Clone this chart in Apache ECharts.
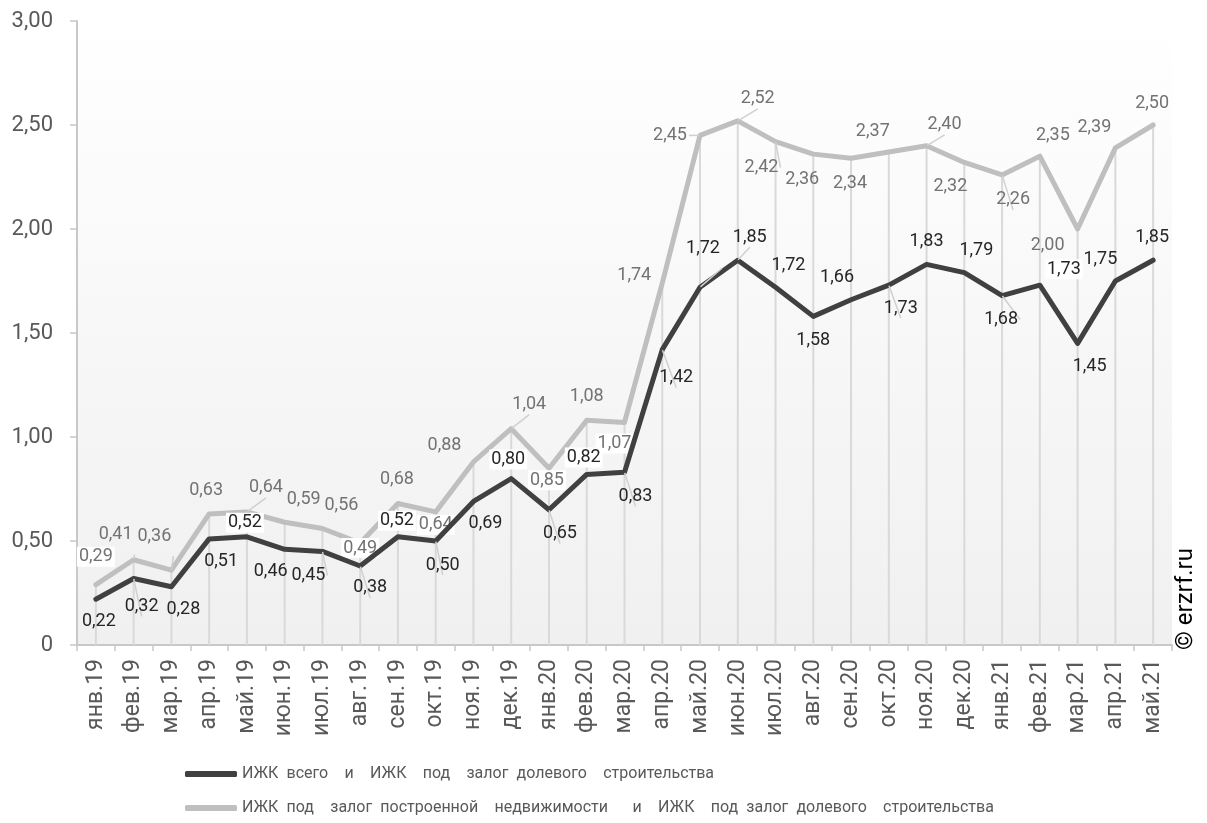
<!DOCTYPE html>
<html>
<head>
<meta charset="utf-8">
<script src="https://cdn.jsdelivr.net/npm/echarts@6/dist/echarts.min.js"></script>
<style>
  html, body { margin: 0; padding: 0; background: #ffffff; }
  #chart { width: 1207px; height: 823px; }
</style>
</head>
<body>
<div id="chart"></div>
<script>
// Месяцы (ось X)
const months = [
  'янв.19', 'фев.19', 'мар.19', 'апр.19', 'май.19', 'июн.19', 'июл.19', 'авг.19',
  'сен.19', 'окт.19', 'ноя.19', 'дек.19', 'янв.20', 'фев.20', 'мар.20', 'апр.20',
  'май.20', 'июн.20', 'июл.20', 'авг.20', 'сен.20', 'окт.20', 'ноя.20', 'дек.20',
  'янв.21', 'фев.21', 'мар.21', 'апр.21', 'май.21'
];

const seriesTotalName = 'ИЖК всего  и  ИЖК  под  залог долевого  строительства';
const seriesBuiltName = 'ИЖК под  залог построенной  недвижимости   и  ИЖК  под залог долевого  строительства';

// ИЖК всего / ИЖК под залог ДДУ
const totalValues = [
  0.22, 0.32, 0.28, 0.51, 0.52, 0.46, 0.45, 0.38, 0.52, 0.50, 0.69, 0.80, 0.65, 0.82, 0.83,
  1.42, 1.72, 1.85, 1.72, 1.58, 1.66, 1.73, 1.83, 1.79, 1.68, 1.73, 1.45, 1.75, 1.85
];

// ИЖК под залог построенной недвижимости / ИЖК под залог ДДУ
const builtValues = [
  0.29, 0.41, 0.36, 0.63, 0.64, 0.59, 0.56, 0.49, 0.68, 0.64, 0.88, 1.04, 0.85, 1.08, 1.07,
  1.74, 2.45, 2.52, 2.42, 2.36, 2.34, 2.37, 2.40, 2.32, 2.26, 2.35, 2.00, 2.39, 2.50
];

// Шкала Y
const yMin = 0, yMax = 3, yStep = 0.5;

// Смещения подписей значений относительно точек (px)
const totalLabelShift = [
  [3, 22], [8, 28], [12, 23], [12, 23], [-2, -14], [-14, 22], [-14, 24], [10, 22], [-1, -16],
  [7, 24], [12, 22], [-3, -19], [11, 24], [-3, -17], [11, 24], [14, 28], [3, -39], [12, -23],
  [13, -22], [0, 24], [-14, -22], [12, 23], [0, -23], [12, -22], [-1, 24], [24, -16], [12, 23],
  [-15, -22], [-1, -23]
];
const builtLabelShift = [
  [0, -28], [-18, -25], [-17, -34], [-3, -23], [19, -24], [19, -23], [19, -23], [0, 5], [-1, -24],
  [0, 13], [-29, -16], [18, -24], [-2, 12], [0, -24], [-10, 21], [-28, -8], [-30, 0], [20, -22],
  [-14, 26], [-11, 25], [-1, 25], [-16, -21], [18, -21], [-14, 24], [11, 25], [13, -21], [-30, 16],
  [-21, -20], [-1, -22]
];
// Подписи с белой подложкой и с выносными линиями
const totalBoxed = [4, 8, 11, 13, 25];
const builtBoxed = [0, 7, 9, 12, 14];
const totalLeaders = [1, 6, 7, 9, 12, 14, 15, 16, 17, 21, 24];
const builtLeaders = [1, 2, 4, 11, 16, 17, 18, 22, 24];

const FONT = 'Roboto';
const fmt = v => v.toFixed(2).replace('.', ',');

function buildPoints(values, shifts, boxed, leaders, color) {
  return values.map((v, i) => ({
    value: v,
    label: {
      offset: shifts[i],
      backgroundColor: boxed.includes(i) ? '#ffffff' : 'transparent',
      color: color
    },
    labelLine: {
      show: leaders.includes(i),
      lineStyle: { color: '#d0d0d0', width: 1.5 }
    }
  }));
}

const chart = echarts.init(document.getElementById('chart'), null, { renderer: 'canvas' });

const option = {
  animation: false,
  backgroundColor: '#ffffff',
  textStyle: { fontFamily: FONT },
  grid: {
    left: 77, right: 35, top: 21, bottom: 178,
    show: true,
    borderWidth: 0,
    backgroundColor: new echarts.graphic.LinearGradient(0, 0, 0, 1, [
      { offset: 0, color: '#ffffff' },
      { offset: 1, color: '#f0f0f0' }
    ])
  },
  legend: {
    orient: 'vertical',
    left: 185,
    top: 766,
    height: 54,
    padding: 0,
    itemGap: 18,
    itemWidth: 52,
    itemHeight: 6,
    icon: 'roundRect',
    data: [seriesTotalName, seriesBuiltName],
    formatter: name => name.replace(/ /g, '\u2002'),
    textStyle: { fontFamily: FONT, fontSize: 16, color: '#595959' }
  },
  xAxis: {
    type: 'category',
    data: months,
    boundaryGap: true,
    axisLine: { lineStyle: { color: '#c8c8c8', width: 2 } },
    axisTick: { show: true, length: 6, lineStyle: { color: '#c8c8c8', width: 1.5 } },
    axisLabel: {
      rotate: 90,
      interval: 0,
      margin: 14,
      fontFamily: FONT,
      fontSize: 23,
      color: '#595959'
    },
    splitLine: { show: false }
  },
  yAxis: {
    type: 'value',
    min: yMin, max: yMax, interval: yStep,
    axisLine: { show: true, lineStyle: { color: '#c8c8c8', width: 2 } },
    axisTick: { show: true, length: 7, lineStyle: { color: '#c8c8c8', width: 1.5 } },
    axisLabel: {
      margin: 24,
      fontFamily: FONT,
      fontSize: 22,
      color: '#595959',
      formatter: v => (v === 0 ? '0' : fmt(v))
    },
    splitLine: { show: false }
  },
  graphic: [{
    type: 'text',
    x: 1186,
    y: 599,
    rotation: Math.PI / 2,
    style: {
      text: '© erzrf.ru',
      fill: '#000000',
      font: '24px ' + FONT,
      align: 'center',
      verticalAlign: 'middle'
    }
  }],
  series: [
    {
      // вертикальные линии проекции от верхней линии к оси
      type: 'bar',
      name: 'drop',
      data: builtValues,
      barWidth: 2,
      silent: true,
      z: 1,
      itemStyle: { color: '#d9d9d9' },
      label: { show: false }
    },
    {
      type: 'line',
      name: seriesBuiltName,
      data: buildPoints(builtValues, builtLabelShift, builtBoxed, builtLeaders, '#737373'),
      z: 2,
      color: '#bfbfbf',
      lineStyle: { color: '#bfbfbf', width: 5, join: 'round', cap: 'round' },
      symbol: 'circle',
      symbolSize: 1,
      showSymbol: true,
      itemStyle: { color: '#bfbfbf' },
      label: {
        show: true,
        position: 'inside',
        fontFamily: FONT,
        fontSize: 18,
        padding: [1, 2],
        formatter: p => fmt(p.value)
      }
    },
    {
      type: 'line',
      name: seriesTotalName,
      data: buildPoints(totalValues, totalLabelShift, totalBoxed, totalLeaders, '#262626'),
      z: 3,
      color: '#404040',
      lineStyle: { color: '#404040', width: 5, join: 'round', cap: 'round' },
      symbol: 'circle',
      symbolSize: 1,
      showSymbol: true,
      itemStyle: { color: '#404040' },
      label: {
        show: true,
        position: 'inside',
        fontFamily: FONT,
        fontSize: 18,
        padding: [1, 2],
        formatter: p => fmt(p.value)
      }
    }
  ]
};

chart.setOption(option);
</script>
</body>
</html>
